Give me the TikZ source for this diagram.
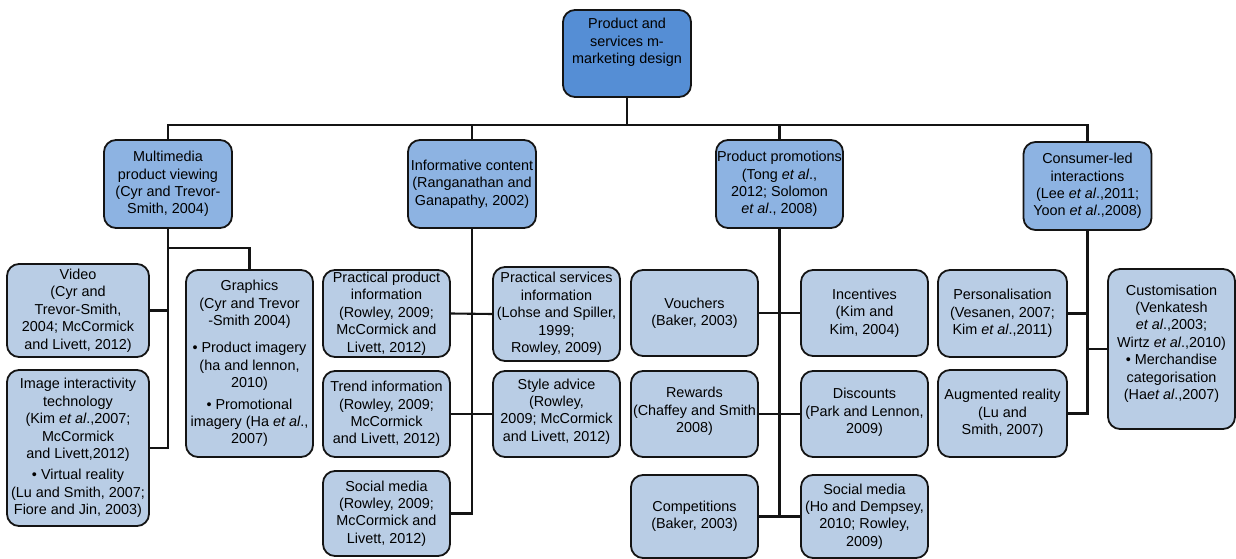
\documentclass[tikz,border=0pt]{standalone}
\usepackage{fontspec}
\setmainfont{Liberation Sans}
\usetikzlibrary{positioning,calc}
\definecolor{croot}{HTML}{558ED5}
\definecolor{ccat}{HTML}{8DB3E2}
\definecolor{cleaf}{HTML}{B9CDE5}
\definecolor{cink}{HTML}{141414}

\begin{document}
\begin{tikzpicture}[x=1pt, y=-1pt,
    every node/.style={font=\fontsize{14.4}{17.4}\selectfont, align=center, inner xsep=1pt, inner ysep=2pt},
    box/.style={draw=cink, line width=1.8pt, rounded corners=12pt, minimum width=127pt},
    rootbox/.style={box, fill=croot, minimum width=128pt, minimum height=87pt},
    catbox/.style={box, fill=ccat, minimum width=128pt, minimum height=88pt},
    leafbox/.style={box, fill=cleaf},
    link/.style={draw=cink, line width=2.1pt}]
      \useasboundingbox (0,0) rectangle (1236,559);
      \node[rootbox, text depth=25pt] (root) at (627,53.5) {Product and\\services m-\\marketing design};
      \node[catbox] (multi) at (168,184) {Multimedia\\product viewing\\(Cyr and Trevor-\\Smith, 2004)};
      \node[catbox] (info) at (472,184) {Informative content\\(Ranganathan and\\Ganapathy, 2002)};
      \node[catbox, minimum width=127pt] (promo) at (779.5,184) {Product promotions\\(Tong \textit{et al}.,\\2012; Solomon\\\textit{et al}., 2008)};
      \node[catbox] (cons) at (1087.5,186) {Consumer-led\\interactions\\(Lee \textit{et al}.,2011;\\Yoon \textit{et al}.,2008)};

      \node[leafbox, minimum width=142pt, minimum height=93pt] (video) at (78,310.5) {Video\\(Cyr and\\Trevor-Smith,\\2004; McCormick\\and Livett, 2012)};
      \node[leafbox, minimum width=142pt, minimum height=156pt] (image) at (78,448) {Image interactivity\\technology\\(Kim \textit{et al}.,2007;\\McCormick\\and Livett,2012)\\[4pt]• Virtual reality\\(Lu and Smith, 2007;\\Fiore and Jin, 2003)};
      \node[leafbox, minimum height=187pt] (graphics) at (249.5,363.5) {Graphics\\(Cyr and Trevor\\-Smith 2004)\\[10pt]• Product imagery\\(ha and lennon,\\2010)\\[4pt]• Promotional\\imagery (Ha \textit{et al}.,\\2007)};

      \node[leafbox, minimum height=87pt] (prodinfo) at (386.5,313.5) {Practical product\\information\\(Rowley, 2009;\\McCormick and\\Livett, 2012)};
      \node[leafbox, minimum height=94pt] (servinfo) at (556.5,314) {Practical services\\information\\(Lohse and Spiller,\\1999;\\Rowley, 2009)};
      \node[leafbox, minimum height=86pt] (trend) at (386.5,414) {Trend information\\(Rowley, 2009;\\McCormick\\and Livett, 2012)};
      \node[leafbox, minimum height=86pt, text depth=8pt] (style) at (556.5,414) {Style advice\\(Rowley,\\2009; McCormick\\and Livett, 2012)};
      \node[leafbox, minimum height=85pt] (socialinfo) at (386.5,513.5) {Social media\\(Rowley, 2009;\\McCormick and\\Livett, 2012)};

      \node[leafbox, minimum height=86pt] (vouch) at (694.5,313) {Vouchers\\(Baker, 2003)};
      \node[leafbox, minimum height=86pt] (incent) at (864.5,313) {Incentives\\(Kim and\\Kim, 2004)};
      \node[leafbox, minimum height=86pt, text depth=8pt] (reward) at (694.5,414) {Rewards\\(Chaffey and Smith\\2008)};
      \node[leafbox, minimum height=86pt, text depth=6pt] (disc) at (864.5,414) {Discounts\\(Park and Lennon,\\2009)};
      \node[leafbox, minimum height=83pt] (compet) at (694.5,516.5) {Competitions\\(Baker, 2003)};
      \node[leafbox, minimum height=83pt] (socialpromo) at (864.5,516.5) {Social media\\(Ho and Dempsey,\\2010; Rowley,\\2009)};

      \node[leafbox, minimum width=129pt, minimum height=87pt] (pers) at (1002.5,313.5) {Personalisation\\(Vesanen, 2007;\\Kim \textit{et al}.,2011)};
      \node[leafbox, minimum width=129pt, minimum height=87pt] (augm) at (1002.5,413.5) {Augmented reality\\(Lu and\\Smith, 2007)};
      \node[leafbox, minimum height=160pt, text depth=14pt] (custom) at (1171.5,349) {Customisation\\(Venkatesh\\\textit{et al}.,2003;\\Wirtz \textit{et al}.,2010)\\• Merchandise\\categorisation\\(Ha\textit{et al}.,2007)};

      \coordinate (bus) at (627,125);
      \coordinate (gfork) at (168,248);
      \draw[link] (root) -- (bus);
      \draw[link] (multi.north) |- (bus) -| (cons.north);
      \draw[link] (info.north) -- (info.north |- bus);
      \draw[link] (promo.north) -- (promo.north |- bus);

      \draw[link] (multi.south) |- (image.east);
      \draw[link] (video.east) -- (video.east -| multi.south);
      \draw[link] (gfork) -| (graphics.north);

      \draw[link] (info.south) |- (socialinfo.east);
      \draw[link] (prodinfo.east) -- (servinfo.west);
      \draw[link] (trend.east) -- (style.west);

      \draw[link] (promo.south) |- (compet.east);
      \draw[link] (vouch.east) -- (incent.west);
      \draw[link] (reward.east) -- (disc.west);
      \draw[link] (compet.east) -- (socialpromo.west);

      \draw[link] (cons.south) |- (augm.east);
      \draw[link] (pers.east) -- (pers.east -| cons.south);
      \draw[link] (custom.west) -- (custom.west -| cons.south);
    \end{tikzpicture}
\end{document}
